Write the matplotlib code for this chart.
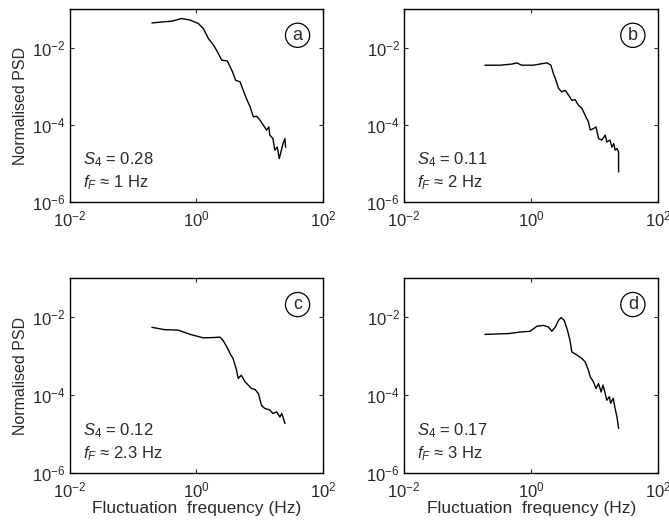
import numpy as np
import matplotlib
matplotlib.use("Agg")
import matplotlib.pyplot as plt

plt.rcParams["font.family"] = ["Liberation Sans", "DejaVu Sans"]
plt.rcParams["mathtext.fontset"] = "custom"
plt.rcParams["mathtext.rm"] = "Liberation Sans"
plt.rcParams["mathtext.it"] = "Liberation Sans:italic"

# log10(frequency), log10(normalised PSD)
a_logf = [-0.70, -0.55, -0.39, -0.234, -0.10, 0.03, 0.11, 0.19, 0.27, 0.335, 0.40, 0.49, 0.57,
          0.62, 0.69, 0.74, 0.79, 0.85, 0.90, 0.95, 1.00, 1.06, 1.11, 1.146, 1.16, 1.21, 1.24,
          1.28, 1.31, 1.35, 1.37, 1.40, 1.41]
a_logp = [-1.355, -1.33, -1.31, -1.24, -1.28, -1.37, -1.50, -1.76, -1.93, -2.11, -2.32, -2.34, -2.62,
          -2.84, -2.88, -3.10, -3.31, -3.53, -3.79, -3.77, -3.86, -4.01, -4.13, -4.05, -4.26, -4.35, -4.65,
          -4.57, -4.87, -4.61, -4.48, -4.35, -4.57]

b_logf = [-0.725, -0.49, -0.30, -0.225, -0.15, 0.036, 0.17, 0.25, 0.31, 0.35, 0.39, 0.43, 0.48,
          0.535, 0.59, 0.64, 0.69, 0.745, 0.80, 0.85, 0.90, 0.93, 0.98, 1.02, 1.06, 1.11, 1.165,
          1.19, 1.24, 1.27, 1.30, 1.32, 1.35, 1.375, 1.375]
b_logp = [-2.45, -2.45, -2.42, -2.39, -2.45, -2.45, -2.41, -2.39, -2.45, -2.67, -2.84, -3.05, -3.14,
          -3.10, -3.23, -3.36, -3.34, -3.49, -3.57, -3.75, -3.92, -4.13, -4.09, -4.05, -4.35, -4.39, -4.26,
          -4.44, -4.39, -4.57, -4.48, -4.65, -4.61, -4.70, -5.21]

c_logf = [-0.70, -0.50, -0.29, -0.10, 0.11, 0.29, 0.37, 0.42, 0.48, 0.545, 0.58, 0.635, 0.66,
          0.71, 0.77, 0.82, 0.87, 0.925, 0.98, 1.03, 1.08, 1.16, 1.21, 1.27, 1.32, 1.35, 1.40]
c_logp = [-2.26, -2.32, -2.33, -2.44, -2.53, -2.52, -2.51, -2.59, -2.76, -2.97, -3.06, -3.36, -3.57,
          -3.49, -3.66, -3.74, -3.83, -3.85, -3.96, -4.26, -4.34, -4.38, -4.47, -4.43, -4.56, -4.47, -4.72]

d_logf = [-0.725, -0.36, -0.17, -0.016, 0.09, 0.19, 0.27, 0.325, 0.38, 0.43, 0.47, 0.52, 0.57,
          0.61, 0.64, 0.72, 0.80, 0.85, 0.90, 0.93, 0.98, 1.02, 1.06, 1.10, 1.13, 1.165, 1.19,
          1.23, 1.25, 1.29, 1.32, 1.35, 1.375]
d_logp = [-2.44, -2.42, -2.38, -2.36, -2.23, -2.21, -2.25, -2.36, -2.25, -2.08, -2.01, -2.08, -2.33,
          -2.59, -2.89, -2.97, -3.06, -3.15, -3.36, -3.53, -3.66, -3.83, -3.70, -3.92, -3.74, -3.96, -4.13,
          -4.04, -4.21, -4.08, -4.34, -4.56, -4.85]

panel_letters = ["a", "b", "c", "d"]
s4_values = ["0.28", "0.11", "0.12", "0.17"]
ff_values = ["1", "2", "2.3", "3"]
curves = [(a_logf, a_logp), (b_logf, b_logp), (c_logf, c_logp), (d_logf, d_logp)]

# axes rectangles in figure fractions (left, bottom, width, height)
rects = [
    (0.1046, 0.617, 0.378, 0.3655),
    (0.604, 0.617, 0.380, 0.3655),
    (0.1046, 0.104, 0.378, 0.369),
    (0.604, 0.104, 0.380, 0.369),
]

text_color = "#2a2a2a"
fig = plt.figure(figsize=(6.69, 5.28), dpi=100)

for i, (logf, logp) in enumerate(curves):
    ax = fig.add_axes(rects[i])
    ax.loglog(10 ** np.array(logf), 10 ** np.array(logp), color="black", lw=1.0)
    ax.set_xlim(1e-2, 1e2)
    ax.set_ylim(1e-6, 1e-1)
    ax.set_xticks([1e-2, 1e0, 1e2])
    ax.set_yticks([1e-6, 1e-4, 1e-2])
    ax.minorticks_off()
    ax.tick_params(direction="in", length=3, width=0.8, top=True, right=True,
                   labelsize=12, colors=text_color, pad=3)
    ax.tick_params(axis="x", pad=5)
    for sp in ax.spines.values():
        sp.set_linewidth(1.0)
    ax.text(0.05, 0.22, r"$S_4$" + f" = {s4_values[i]}", transform=ax.transAxes,
            fontsize=12, color=text_color, va="center", ha="left")
    ax.text(0.05, 0.10, r"$f_F$" + f" \u2248 {ff_values[i]} Hz", transform=ax.transAxes,
            fontsize=12, color=text_color, va="center", ha="left")
    ax.text(0.90, 0.865, panel_letters[i], transform=ax.transAxes, fontsize=13,
            color=text_color, ha="center", va="center",
            bbox=dict(boxstyle="circle,pad=0.2", fc="white", ec="black", lw=0.9))
    if i % 2 == 0:
        ax.set_ylabel("Normalised PSD", fontsize=11.5, color=text_color, labelpad=3)
    if i >= 2:
        ax.set_xlabel("Fluctuation  frequency (Hz)", fontsize=12.5, color=text_color, labelpad=1)

fig.savefig("out.png", dpi=100)
